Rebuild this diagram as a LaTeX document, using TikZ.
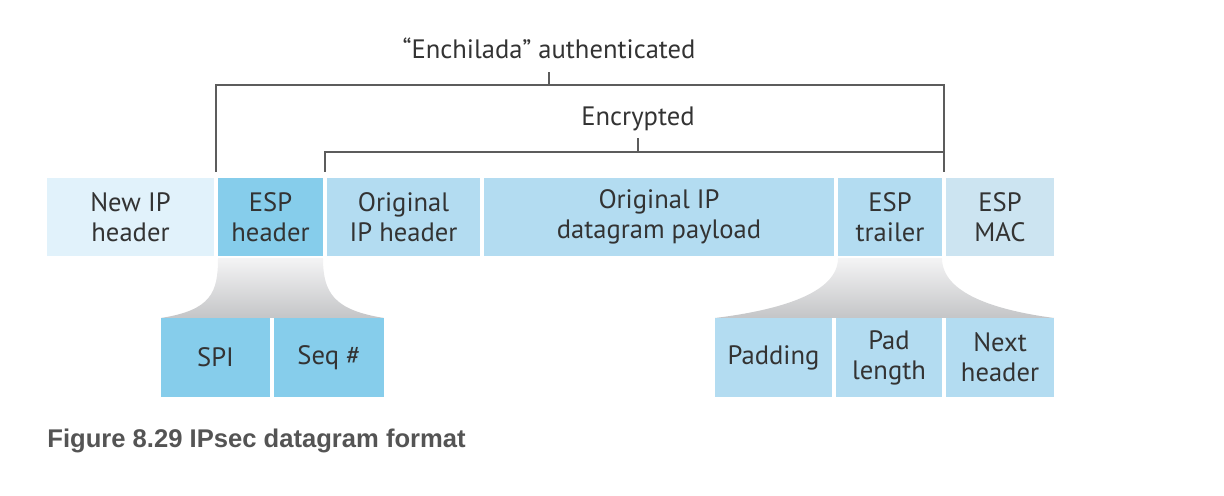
\documentclass[tikz,border=0pt]{standalone}
\usepackage{fontspec}
\setmainfont{PT Sans}
\newfontfamily\capfont{Liberation Sans}
\usetikzlibrary{positioning}
\definecolor{pale}{HTML}{E1F2FB}
\definecolor{sky}{HTML}{86CDEB}
\definecolor{midblue}{HTML}{B3DCF1}
\definecolor{macblue}{HTML}{CCE4F1}
\definecolor{ink}{HTML}{333333}
\definecolor{funtop}{HTML}{F4F4F5}
\definecolor{funbot}{HTML}{C4C5C7}
\begin{document}
\begin{tikzpicture}[x=0.5pt,y=-0.5pt,
  field/.style={rectangle,inner sep=0pt,outer sep=0pt,align=center,text=ink,
    font=\fontsize{13.3}{15}\selectfont},
  toprow/.style={field,minimum height=39pt},
  subrow/.style={field,minimum height=39.5pt},
  lbl/.style={text=ink,font=\fontsize{13.3}{15}\selectfont},
  bracket/.style={draw=ink!80,line width=0.6pt},
  funnel/.style={top color=funtop,bottom color=funbot}]
\useasboundingbox (0,0) rectangle (1224,496);
%DATAGRAM FIELDS
\node[toprow,fill=pale,minimum width=83.5pt] (newip) at (130.5,217) {New IP\\header};
\node[toprow,fill=sky,minimum width=52.5pt,right=2pt of newip] (esphdr) {ESP\\header};
\node[toprow,fill=midblue,minimum width=76.5pt,right=2pt of esphdr] (origip) {Original\\IP header};
\node[toprow,fill=midblue,minimum width=175pt,right=2pt of origip] (payload) {Original IP\\datagram payload};
\node[toprow,fill=midblue,minimum width=52pt,right=2pt of payload] (trailer) {ESP\\trailer};
\node[toprow,fill=macblue,minimum width=54pt,right=2pt of trailer] (mac) {ESP\\MAC};
%ESP HEADER PARTS
\node[subrow,fill=sky,minimum width=54.5pt] (spi) at (215.5,357.5) {SPI};
\node[subrow,fill=sky,minimum width=55pt,right=2pt of spi] (seq) {Seq \#};
%ESP TRAILER PARTS
\node[subrow,fill=midblue,minimum width=58.5pt] (pad) at (773.5,357.5) {Padding};
\node[subrow,fill=midblue,minimum width=53pt,right=2pt of pad] (padlen) {Pad\\length};
\node[subrow,fill=midblue,minimum width=54pt,right=2pt of padlen] (nexthdr) {Next\\header};
%FUNNELS
\shade[funnel] ([yshift=-1pt]esphdr.south west) .. controls +(0,35) and +(50,-8) .. (spi.north west)
  -- (seq.north east) .. controls +(-50,-8) and +(0,35) .. ([yshift=-1pt]esphdr.south east) -- cycle;
\shade[funnel] ([yshift=-1pt]trailer.south west) .. controls +(0,35) and +(65,-8) .. (pad.north west)
  -- (nexthdr.north east) .. controls +(-60,-8) and +(0,35) .. ([yshift=-1pt]trailer.south east) -- cycle;
%AUTHENTICATED
\node[lbl] (auth) at (549,48) {“Enchilada” authenticated};
\coordinate (authbar) at (549,85);
\draw[bracket] ([xshift=1pt,yshift=3pt]newip.north east) |- (authbar)
  -| ([xshift=1pt,yshift=3pt]trailer.north east);
\draw[bracket] (authbar) -- ++(0,-13);
%ENCRYPTED
\node[lbl] (enc) at (638,119) {Encrypted};
\coordinate (encbar) at (638,152);
\draw[bracket] ([xshift=1pt,yshift=3pt]esphdr.north east) |- (encbar)
  -| ([xshift=1pt,yshift=3pt]trailer.north east);
\draw[bracket] (encbar) -- ++(0,-14);
%CAPTION
\node[anchor=base west,inner sep=0pt,text=black!67,font=\capfont\bfseries\fontsize{12.8}{15}\selectfont] (caption) at (47,447) {Figure 8.29 IPsec datagram format};
\end{tikzpicture}
\end{document}
